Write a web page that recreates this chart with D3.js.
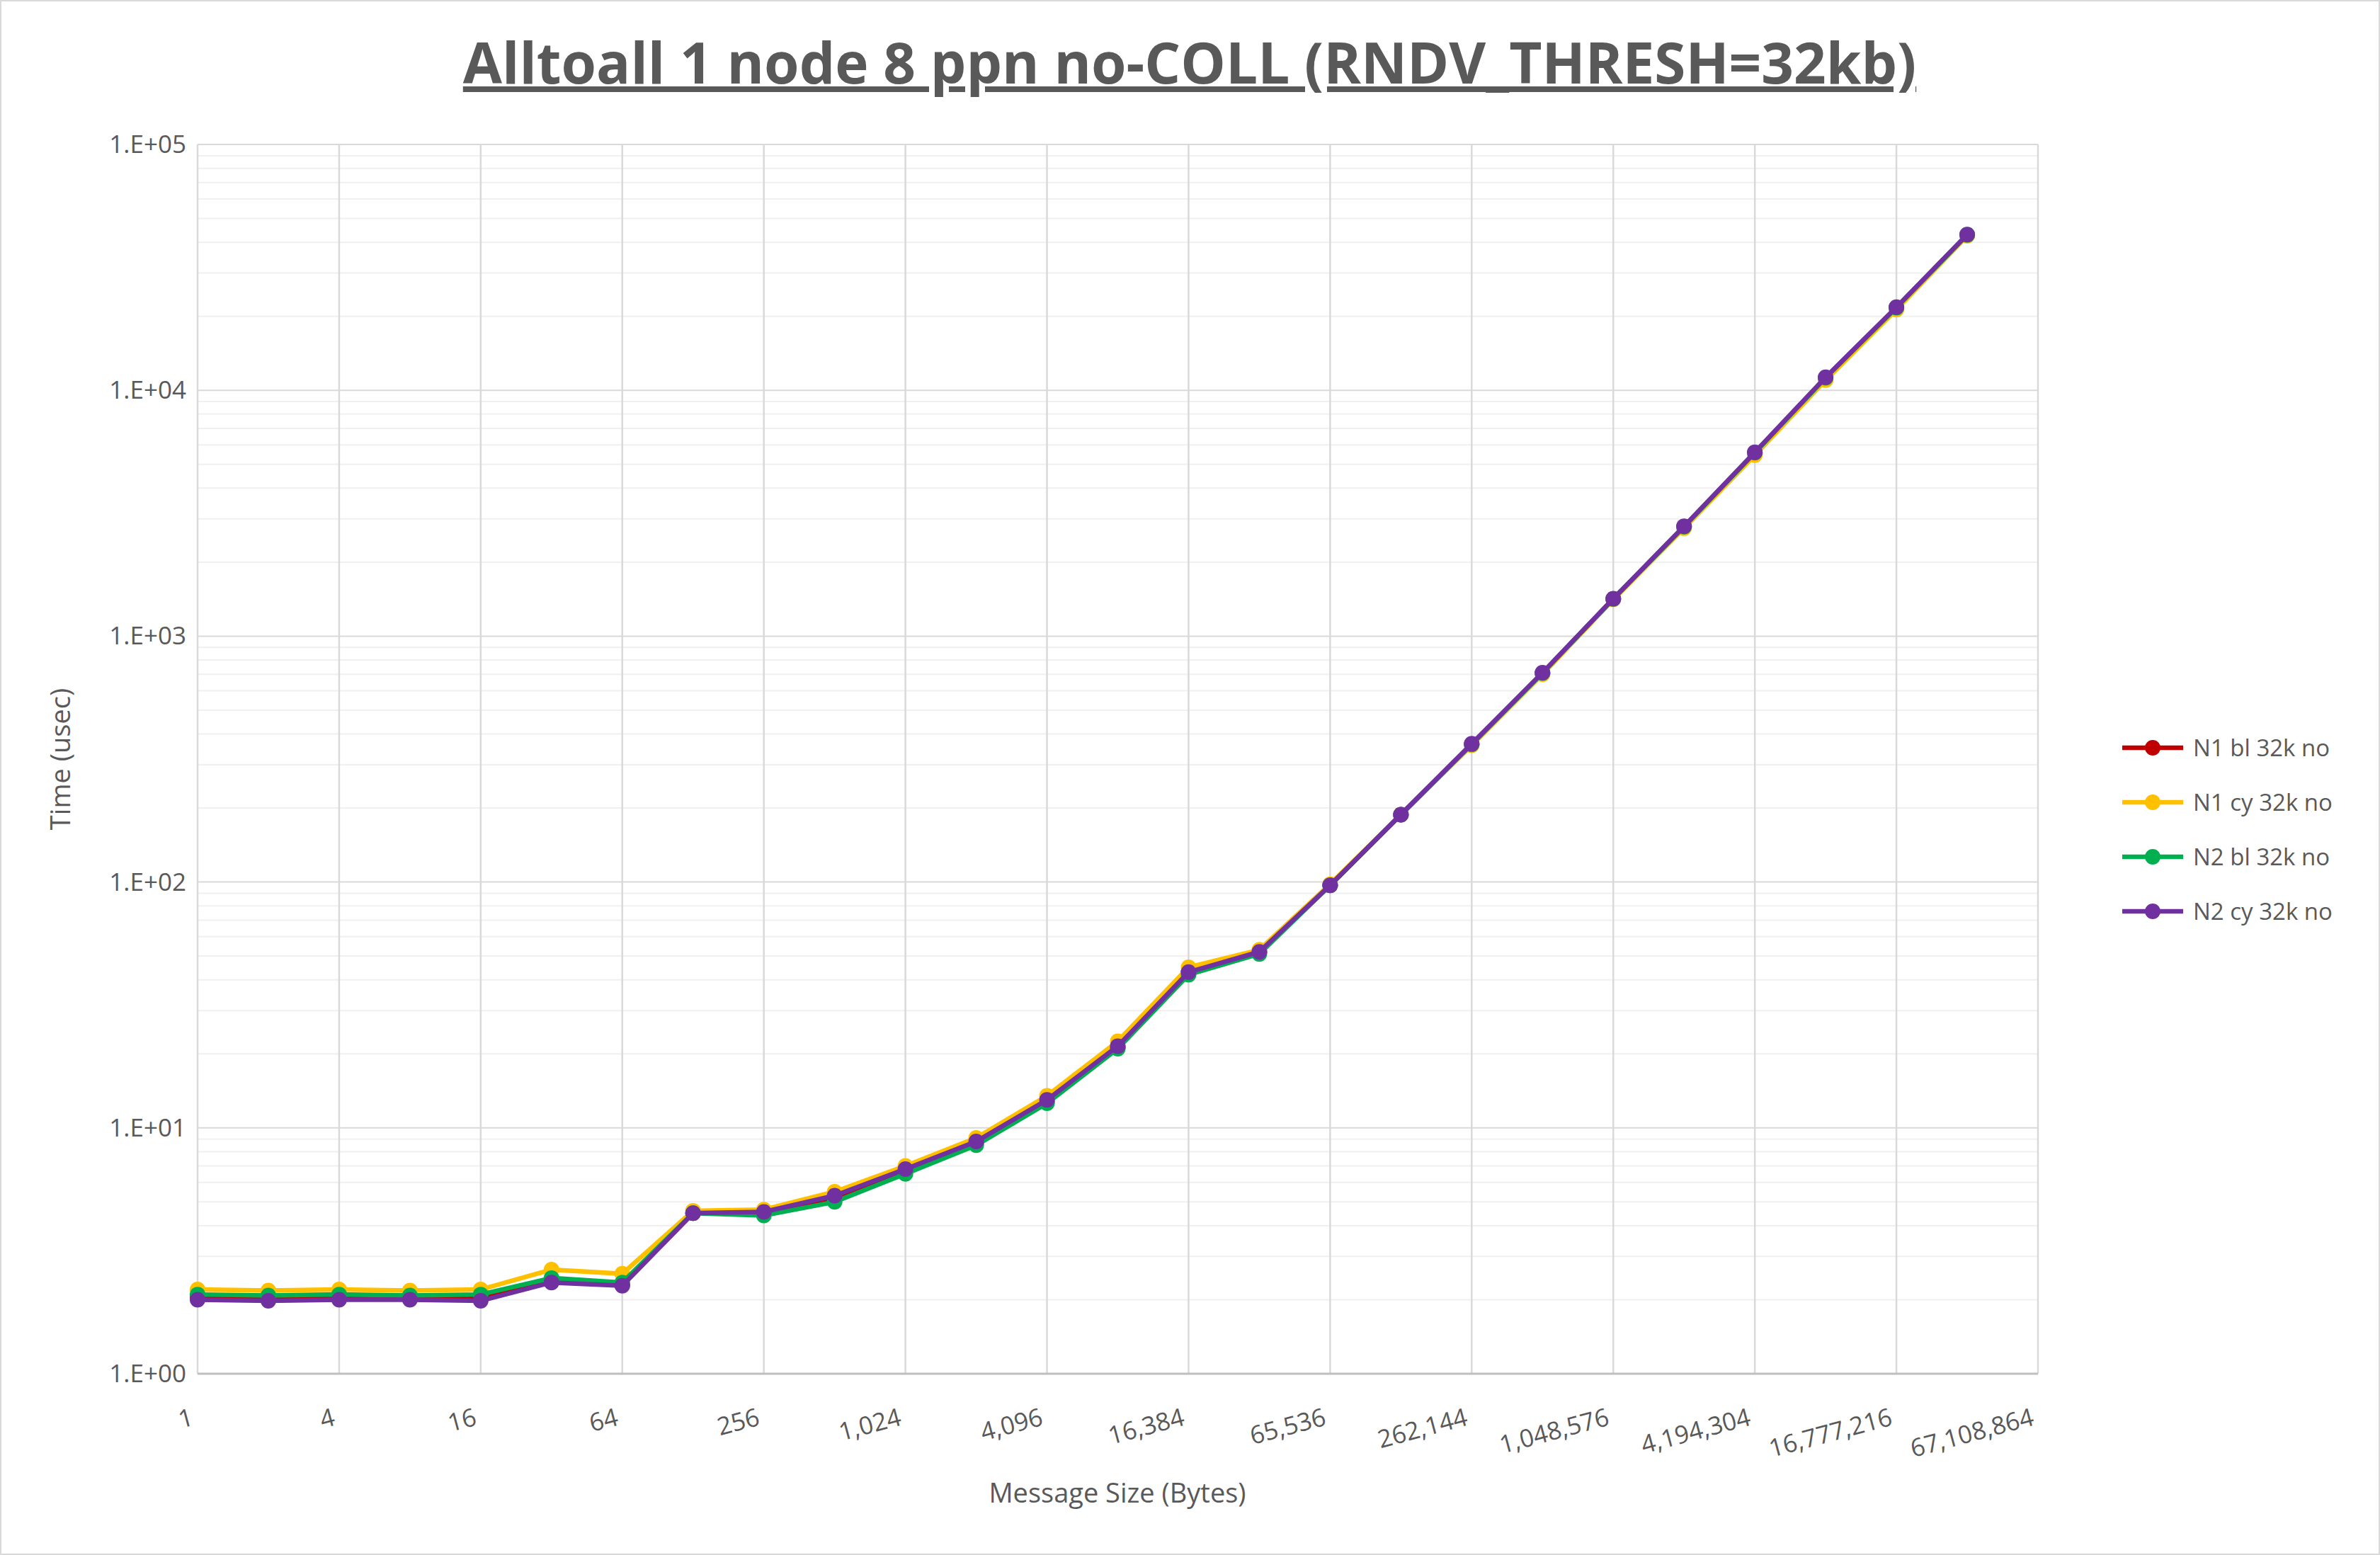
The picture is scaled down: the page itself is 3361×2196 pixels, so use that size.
<!DOCTYPE html><html><head><meta charset="utf-8">
<script src="https://cdn.jsdelivr.net/npm/d3@7"></script>
<style>body{margin:0;background:#fff}text{font-family:"Open Sans","Liberation Sans",sans-serif}</style>
</head><body><svg id="c" width="3361" height="2196"></svg>
<script>
const sizes = d3.range(0,26).map(i=>Math.pow(2,i));
const xTicks = d3.range(0,27,2).map(i=>Math.pow(2,i));
const yTicks = [1,10,100,1000,10000,100000];
const seriesNames = ["N1 bl 32k no","N1 cy 32k no","N2 bl 32k no","N2 cy 32k no"];
const colors = ["#C00000","#FFC000","#00B050","#7030A0"];
const n1bl = [2.05,2.03,2.05,2.03,2.02,2.4,2.3,4.5,4.5,5.2,6.7,8.7,12.8,21.3,43,52,97,188,362,705,1415,2780,5550,11200,21600,42800];
const n1cy = [2.2,2.18,2.2,2.18,2.2,2.65,2.55,4.6,4.65,5.5,7.0,9.1,13.5,22.5,45,53,98,188,360,700,1410,2750,5450,11000,21300,42500];
const n2bl = [2.1,2.08,2.1,2.08,2.1,2.45,2.35,4.5,4.4,5.0,6.5,8.5,12.6,21,42,51,97,188,363,708,1418,2790,5580,11250,21700,42900];
const n2cy = [2.0,1.98,2.0,2.0,1.98,2.35,2.28,4.5,4.55,5.3,6.8,8.8,13.0,21.5,43,52,97,188,365,710,1420,2800,5600,11300,21800,43000];
const series = [n1bl,n1cy,n2bl,n2cy];

const svg = d3.select("#c");
svg.append("rect").attr("x",1).attr("y",1).attr("width",3359).attr("height",2194).attr("fill","#fff").attr("stroke","#d9d9d9").attr("stroke-width",2);
const L=279,R=2878,T=204,B=1940;
const x=d3.scaleLog().base(2).domain([1,Math.pow(2,26)]).range([L,R]);
const y=d3.scaleLog().domain([1,1e5]).range([B,T]);
const minor=[];for(let d=1;d<1e5;d*=10)for(let k=2;k<10;k++)minor.push(d*k);
svg.append("g").selectAll("line").data(minor).join("line").attr("x1",L).attr("x2",R).attr("y1",d=>y(d)).attr("y2",d=>y(d)).attr("stroke","#f0f0f0").attr("stroke-width",2);
svg.append("g").selectAll("line").data(yTicks).join("line").attr("x1",L).attr("x2",R).attr("y1",d=>y(d)).attr("y2",d=>y(d)).attr("stroke","#d9d9d9").attr("stroke-width",2);
svg.append("g").selectAll("line").data(xTicks).join("line").attr("x1",d=>x(d)).attr("x2",d=>x(d)).attr("y1",T).attr("y2",B).attr("stroke","#d9d9d9").attr("stroke-width",2.5);
svg.append("line").attr("x1",L).attr("x2",R).attr("y1",B).attr("y2",B).attr("stroke","#bfbfbf").attr("stroke-width",3);
svg.append("g").selectAll("text").data(yTicks).join("text").attr("x",L-16).attr("y",d=>y(d)+12).attr("text-anchor","end").attr("font-size",35).attr("fill","#595959").text(d=>"1.E+"+String(Math.round(Math.log10(d))).padStart(2,"0"));
svg.append("g").selectAll("text").data(xTicks).join("text").attr("text-anchor","end").attr("font-size",35).attr("fill","#595959")
 .attr("transform",d=>`translate(${x(d)-4},${B+72}) rotate(-15)`).text(d=>d3.format(",")(d));
svg.append("text").attr("x",1680).attr("y",118).attr("text-anchor","middle").attr("font-size",80).attr("font-weight","bold").attr("fill","#595959").attr("text-decoration","underline").text("Alltoall 1 node 8 ppn no-COLL (RNDV_THRESH=32kb)");
svg.append("text").attr("x",1578).attr("y",2122).attr("text-anchor","middle").attr("font-size",38).attr("fill","#595959").text("Message Size (Bytes)");
svg.append("text").attr("transform",`translate(99,${(T+B)/2}) rotate(-90)`).attr("text-anchor","middle").attr("font-size",38).attr("fill","#595959").text("Time (usec)");
const line=d3.line().x((d,i)=>x(sizes[i])).y(d=>y(d));
series.forEach((s,k)=>{
 const g=svg.append("g");
 g.append("path").attr("d",line(s)).attr("fill","none").attr("stroke",colors[k]).attr("stroke-width",6.5);
 g.selectAll("circle").data(s).join("circle").attr("cx",(d,i)=>x(sizes[i])).attr("cy",d=>y(d)).attr("r",11).attr("fill",colors[k]);
});
seriesNames.forEach((n,k)=>{
 const ly=1056+k*77;
 svg.append("line").attr("x1",2997).attr("x2",3083).attr("y1",ly).attr("y2",ly).attr("stroke",colors[k]).attr("stroke-width",6.5);
 svg.append("circle").attr("cx",3040).attr("cy",ly).attr("r",11).attr("fill",colors[k]);
 svg.append("text").attr("x",3097).attr("y",ly+12).attr("font-size",33).attr("fill","#595959").text(n);
});
</script></body></html>
